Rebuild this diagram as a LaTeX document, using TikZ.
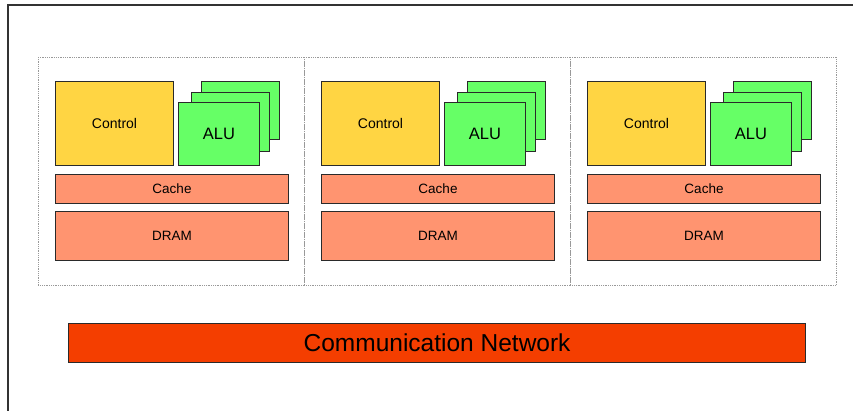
\documentclass[tikz,border=0pt]{standalone}
\usepackage{fontspec}
\setmainfont{Liberation Sans}
\definecolor{ctrlc}{HTML}{FFD543}
\definecolor{aluc}{HTML}{66FF66}
\definecolor{memc}{HTML}{FF9470}
\definecolor{netc}{HTML}{F43E00}
\definecolor{edgec}{HTML}{2A2A2A}
\begin{document}
\begin{tikzpicture}[x=1pt,y=-1pt,
  blk/.style={draw=edgec, line width=1pt, inner sep=0pt, anchor=north west, align=center},
  ctrlbox/.style={blk, fill=ctrlc, font=\fontsize{14}{16}\selectfont},
  alubox/.style={blk, fill=aluc, font=\fontsize{16.5}{19}\selectfont},
  membox/.style={blk, fill=memc, font=\fontsize{13.5}{15}\selectfont},
  panel/.style={draw=black!40, densely dotted, line width=0.8pt, inner sep=0pt, anchor=north west},
  netbox/.style={blk, fill=netc, line width=1.2pt, font=\fontsize{24.5}{28}\selectfont}]
\useasboundingbox (0,0) rectangle (853,410);
\fill[white] (0,0) rectangle (853,410);
% outer frame (left and top edges)
\draw[black!80, line width=1.6pt] (8,411) -- (8,5) -- (854,5);
\foreach \i/\dx in {1/0,2/266,3/532}{
  \node[panel, minimum width=266pt, minimum height=228pt] (p\i) at (38+\dx,57) {};
  \node[ctrlbox, minimum width=118pt, minimum height=84pt] (ctrl\i) at (55+\dx,81) {\raisebox{-2.5pt}{Control}};
  \node[alubox, minimum width=78pt, minimum height=58pt] (alub\i) at (201+\dx,81) {};
  \node[alubox, minimum width=78pt, minimum height=59pt] (alum\i) at (191+\dx,92) {};
  \node[alubox, minimum width=81pt, minimum height=63pt] (alu\i) at (178+\dx,102) {\raisebox{-1.5pt}{ALU}};
  \node[membox, minimum width=233pt, minimum height=29pt] (cache\i) at (55+\dx,174) {\raisebox{-1pt}{Cache}};
  \node[membox, minimum width=233pt, minimum height=49pt] (dram\i) at (55+\dx,211) {\raisebox{-1pt}{DRAM}};
}
\node[netbox, minimum width=737pt, minimum height=39pt] (net) at (68,323) {\raisebox{-2pt}{Communication Network}};
\end{tikzpicture}
\end{document}
